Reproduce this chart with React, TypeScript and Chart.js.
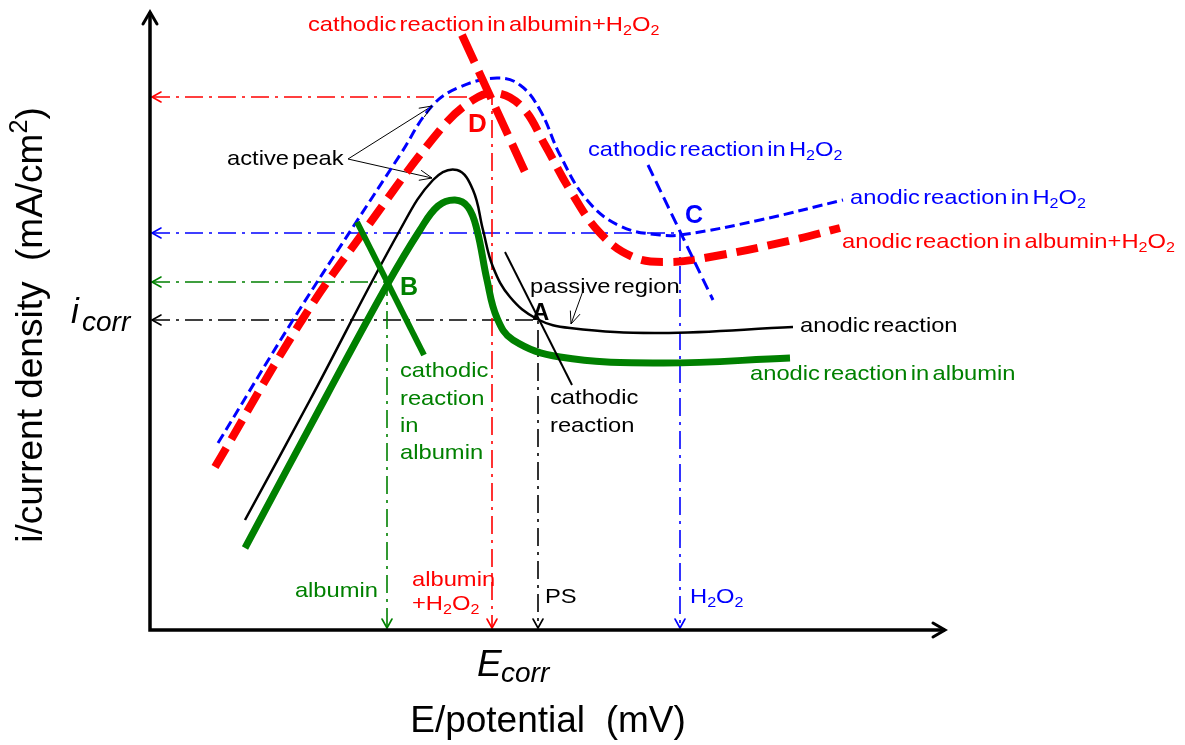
import { useEffect, useRef } from "react";
import { Chart, registerables } from "chart.js";

Chart.register(...registerables);

// ---------- DATA (schematic units: x = E/potential, y = i/current density) ----------
// anodic reaction (PS)
const psAnodicE = [95, 160, 250, 283, 307, 323, 333, 343, 360, 387, 420, 510, 643];
const psAnodicI = [110, 230, 400, 450, 460, 440, 400, 363, 333, 311, 302, 297, 303];
// anodic reaction in albumin
const albAnodicE = [95, 177, 237, 270, 288, 305, 318, 327, 337, 347, 363, 410, 510, 640];
const albAnodicI = [82, 235, 345, 400, 424, 430, 423, 400, 350, 312, 290, 273, 267, 272];
// anodic reaction in H2O2
const h2o2AnodicE = [68, 143, 203, 250, 282, 310, 347, 370, 390, 410, 437, 470, 510, 537, 610, 693];
const h2o2AnodicI = [187, 310, 403, 475, 524, 543, 552, 545, 520, 475, 430, 404, 395, 396, 410, 430];
// anodic reaction in albumin+H2O2
const albH2o2AnodicE = [65, 152, 215, 290, 323, 347, 373, 395, 420, 450, 483, 517, 560, 643, 690];
const albH2o2AnodicI = [163, 310, 400, 500, 530, 537, 522, 485, 440, 397, 373, 368, 373, 390, 402];

// cathodic reactions (straight Tafel-like lines)
const psCathodicE = [355, 422];
const psCathodicI = [378, 245];
const albCathodicE = [207, 274];
const albCathodicI = [408, 275];
const h2o2CathodicE = [498, 563];
const h2o2CathodicI = [465, 330];
const albH2o2CathodicE = [312, 375];
const albH2o2CathodicI = [595, 458];

// corrosion points: albumin, albumin+H2O2, PS, H2O2
const corrNames = ["albumin", "albumin+H2O2", "PS", "H2O2"];
const eCorr = [237, 342, 388, 530];
const iCorr = [348, 533, 310, 397];

// axis extents
const AXIS_X_END = 795;
const AXIS_Y_END = 618;

// ---------- styling ----------
const RED = "#ff0000";
const BLUE = "#0000ff";
const GREEN = "#008000";
const BLACK = "#000000";
const FAM = "'Liberation Sans', Arial, sans-serif";
const corrColors = [GREEN, RED, BLACK, BLUE];

const zip = (xs: number[], ys: number[]) => xs.map((x, i) => ({ x, y: ys[i] }));

type Lbl = {
  t: string;
  x: number;
  y: number;
  c: string;
  s: number;
  b?: boolean;
  it?: boolean;
  sx?: number;
  al?: "left" | "center" | "right";
  rot?: number;
  ws?: number;
};

const LS = 21; // label size
const SX = 1.13;
const labels: Lbl[] = [
  { t: "cathodic reaction in albumin+H_2O_2", x: 158, y: 599, c: RED, s: LS, sx: SX, ws: -3 },
  { t: "D", x: 318, y: 498, c: RED, s: 26, b: true },
  { t: "active peak", x: 77, y: 465, c: BLACK, s: LS, sx: SX, ws: -3 },
  { t: "cathodic reaction in H_2O_2", x: 438, y: 474, c: BLUE, s: LS, sx: SX, ws: -3 },
  { t: "anodic reaction in H_2O_2", x: 700, y: 426, c: BLUE, s: LS, sx: SX, ws: -3 },
  { t: "C", x: 535, y: 407, c: BLUE, s: 25, b: true },
  { t: "anodic reaction in albumin+H_2O_2", x: 692, y: 382, c: RED, s: LS, sx: SX, ws: -3 },
  { t: "B", x: 250, y: 335, c: GREEN, s: 25, b: true },
  { t: "passive region", x: 380, y: 337, c: BLACK, s: LS, sx: SX, ws: -3 },
  { t: "A", x: 382, y: 310, c: BLACK, s: 24, b: true },
  { t: "anodic reaction", x: 650, y: 298, c: BLACK, s: LS, sx: SX, ws: -3 },
  { t: "anodic reaction in albumin", x: 600, y: 250, c: GREEN, s: LS, sx: SX, ws: -3 },
  { t: "cathodic", x: 250, y: 253, c: GREEN, s: LS, sx: SX },
  { t: "reaction", x: 250, y: 225, c: GREEN, s: LS, sx: SX },
  { t: "in", x: 250, y: 198, c: GREEN, s: LS, sx: SX },
  { t: "albumin", x: 250, y: 171, c: GREEN, s: LS, sx: SX },
  { t: "cathodic", x: 400, y: 226, c: BLACK, s: LS, sx: SX },
  { t: "reaction", x: 400, y: 198, c: BLACK, s: LS, sx: SX },
  { t: "albumin", x: 228, y: 33, c: GREEN, s: LS, sx: SX, al: "right" },
  { t: "albumin", x: 262, y: 44, c: RED, s: LS, sx: SX },
  { t: "+H_2O_2", x: 262, y: 20, c: RED, s: LS, sx: SX },
  { t: "PS", x: 395, y: 27, c: BLACK, s: LS, sx: SX },
  { t: "H_2O_2", x: 540, y: 27, c: BLUE, s: LS, sx: SX },
  { t: "E", x: 327, y: -46, c: BLACK, s: 37, it: true },
  { t: "corr", x: 351, y: -52, c: BLACK, s: 28, it: true },
  { t: "i", x: -79, y: 307, c: BLACK, s: 35, it: true },
  { t: "corr", x: -68, y: 299, c: BLACK, s: 28, it: true },
  { t: "i/current density  (mA/cm^2)", x: -108, y: 305, c: BLACK, s: 37, al: "center", rot: -Math.PI / 2 },
  { t: "E/potential  (mV)", x: 398, y: -102, c: BLACK, s: 37, al: "center" },
];

// pointer arrows (annotation): [fromE, fromI, toE, toI]
const pointers = [
  [198, 471, 282, 524],
  [198, 471, 282, 452],
  [434, 342, 421, 306],
];

type Seg = { t: string; k: "n" | "sub" | "sup" };
function parseRich(s: string): Seg[] {
  const out: Seg[] = [];
  let buf = "";
  for (let i = 0; i < s.length; i++) {
    const c = s[i];
    if ((c === "_" || c === "^") && i + 1 < s.length) {
      if (buf) {
        out.push({ t: buf, k: "n" });
        buf = "";
      }
      out.push({ t: s[i + 1], k: c === "_" ? "sub" : "sup" });
      i++;
    } else buf += c;
  }
  if (buf) out.push({ t: buf, k: "n" });
  return out;
}

function drawRich(ctx: CanvasRenderingContext2D, l: Lbl, x: number, y: number) {
  const segs = parseRich(l.t);
  const font = (sz: number) => `${l.it ? "italic " : ""}${l.b ? "bold " : ""}${sz}px ${FAM}`;
  ctx.save();
  (ctx as any).wordSpacing = `${l.ws || 0}px`;
  let w = 0;
  const widths = segs.map((sg) => {
    ctx.font = font(sg.k === "n" ? l.s : l.s * 0.68);
    const m = ctx.measureText(sg.t).width;
    w += m;
    return m;
  });
  ctx.translate(x, y);
  if (l.rot) ctx.rotate(l.rot);
  ctx.scale(l.sx || 1, 1);
  let cx = l.al === "right" ? -w : l.al === "center" ? -w / 2 : 0;
  ctx.fillStyle = l.c;
  ctx.textBaseline = "alphabetic";
  ctx.textAlign = "left";
  segs.forEach((sg, i) => {
    ctx.font = font(sg.k === "n" ? l.s : l.s * 0.68);
    const dy = sg.k === "sub" ? l.s * 0.2 : sg.k === "sup" ? -l.s * 0.4 : 0;
    ctx.fillText(sg.t, cx, dy);
    cx += widths[i];
  });
  ctx.restore();
}

function head(
  ctx: CanvasRenderingContext2D,
  tx: number,
  ty: number,
  fx: number,
  fy: number,
  len: number,
  half: number,
  color: string,
  lw: number
) {
  const a = Math.atan2(ty - fy, tx - fx);
  const bx = tx - len * Math.cos(a);
  const by = ty - len * Math.sin(a);
  const nx = -Math.sin(a) * half;
  const ny = Math.cos(a) * half;
  ctx.save();
  ctx.strokeStyle = color;
  ctx.lineWidth = lw;
  ctx.setLineDash([]);
  ctx.lineCap = "round";
  ctx.lineJoin = "miter";
  ctx.beginPath();
  ctx.moveTo(bx + nx, by + ny);
  ctx.lineTo(tx, ty);
  ctx.lineTo(bx - nx, by - ny);
  ctx.stroke();
  ctx.restore();
}

const overlay = {
  id: "overlay",
  afterDatasetsDraw(chart: any) {
    const ctx = chart.ctx as CanvasRenderingContext2D;
    const xs = chart.scales.x;
    const ys = chart.scales.y;
    const px = (v: number) => xs.getPixelForValue(v);
    const py = (v: number) => ys.getPixelForValue(v);

    chart.data.datasets.forEach((ds: any, i: number) => {
      if (!ds.heads) return;
      const pts = chart.getDatasetMeta(i).data;
      const n = pts.length;
      if (ds.heads.includes("start"))
        head(ctx, pts[0].x, pts[0].y, pts[1].x, pts[1].y, ds.headLen, ds.headHalf, ds.borderColor, ds.headLw);
      if (ds.heads.includes("end"))
        head(ctx, pts[n - 1].x, pts[n - 1].y, pts[n - 2].x, pts[n - 2].y, ds.headLen, ds.headHalf, ds.borderColor, ds.headLw);
    });

    // axes
    const ox = px(0);
    const oy = py(0);
    ctx.save();
    ctx.strokeStyle = BLACK;
    ctx.lineWidth = 3.5;
    ctx.setLineDash([]);
    ctx.beginPath();
    ctx.moveTo(ox, oy + 1.75);
    ctx.lineTo(ox, py(AXIS_Y_END));
    ctx.moveTo(ox - 1.75, oy);
    ctx.lineTo(px(AXIS_X_END), oy);
    ctx.stroke();
    ctx.restore();
    head(ctx, ox, py(AXIS_Y_END), ox, oy, 12, 7, BLACK, 3);
    head(ctx, px(AXIS_X_END), oy, ox, oy, 12, 7, BLACK, 3);

    labels.forEach((l) => drawRich(ctx, l, px(l.x), py(l.y)));
  },
};

function curve(data: { x: number; y: number }[], color: string, width: number, dash: number[] = []) {
  return {
    data,
    borderColor: color,
    borderWidth: width,
    borderDash: dash,
    tension: 0.4,
    pointRadius: 0,
    fill: false,
    clip: false as const,
  };
}

function straight(data: { x: number; y: number }[], color: string, width: number, dash: number[] = [], extra: any = {}) {
  return {
    data,
    borderColor: color,
    borderWidth: width,
    borderDash: dash,
    tension: 0,
    pointRadius: 0,
    fill: false,
    clip: false as const,
    ...extra,
  };
}

export default function App() {
  const ref = useRef<HTMLCanvasElement>(null);
  useEffect(() => {
    document.body.style.margin = "0";
    const refLines = eCorr.map((e, k) =>
      straight(
        [
          { x: 2, y: iCorr[k] },
          { x: e, y: iCorr[k] },
          { x: e, y: 2 },
        ],
        corrColors[k],
        1.6,
        [18, 6, 3, 6],
        { heads: ["start", "end"], headLen: 9, headHalf: 5, headLw: 1.6, label: corrNames[k] }
      )
    );
    const ptrs = pointers.map((p) =>
      straight(
        [
          { x: p[0], y: p[1] },
          { x: p[2], y: p[3] },
        ],
        BLACK,
        1,
        [],
        { heads: ["end"], headLen: 12, headHalf: 5, headLw: 1 }
      )
    );
    const datasets: any[] = [
      straight(zip(albH2o2CathodicE, albH2o2CathodicI), RED, 8, [30, 10]),
      straight(zip(h2o2CathodicE, h2o2CathodicI), BLUE, 3, [12, 6]),
      straight(zip(psCathodicE, psCathodicI), BLACK, 2),
      straight(zip(albCathodicE, albCathodicI), GREEN, 6),
      curve(zip(albH2o2AnodicE, albH2o2AnodicI), RED, 8, [22, 10]),
      curve(zip(h2o2AnodicE, h2o2AnodicI), BLUE, 3, [10, 5]),
      curve(zip(psAnodicE, psAnodicI), BLACK, 2.5),
      curve(zip(albAnodicE, albAnodicI), GREEN, 7),
      ...ptrs,
      ...refLines,
    ];
    const chart = new Chart(ref.current!, {
      type: "line",
      data: { datasets },
      options: {
        animation: false,
        responsive: false,
        maintainAspectRatio: false,
        events: [],
        layout: { padding: { left: 150, right: 235, top: 10, bottom: 115 } },
        scales: {
          x: { type: "linear", min: 0, max: 800, display: false },
          y: { type: "linear", min: 0, max: 620, display: false },
        },
        plugins: { legend: { display: false }, tooltip: { enabled: false } },
        elements: { point: { radius: 0 } },
      },
      plugins: [overlay],
    });
    return () => chart.destroy();
  }, []);
  return (
    <div style={{ position: "relative", width: 1185, height: 745, background: "#fff" }}>
      <canvas ref={ref} width={1185} height={745} style={{ display: "block", width: 1185, height: 745 }} />
    </div>
  );
}
